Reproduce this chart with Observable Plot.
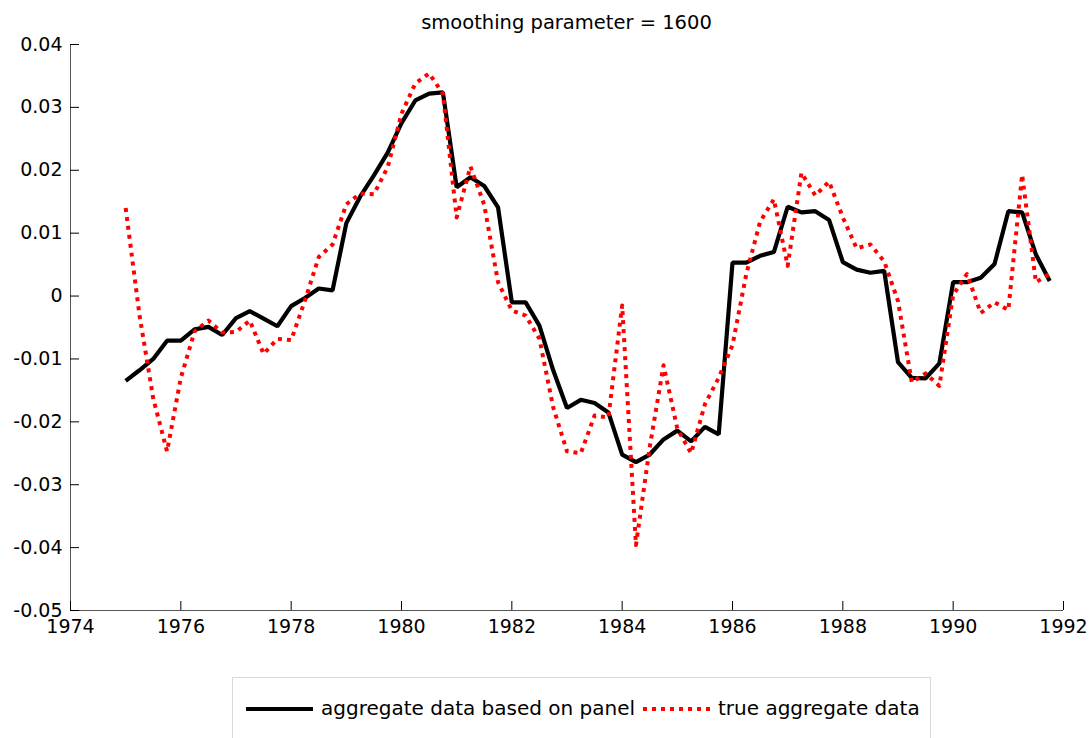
<!DOCTYPE html>
<html>
<head>
<meta charset="utf-8">
<script src="https://cdn.jsdelivr.net/npm/d3@7"></script>
<script src="https://cdn.jsdelivr.net/npm/@observablehq/plot@0.6"></script>
<style>
  body { margin: 0; background: #fff; }
  #wrap { position: relative; width: 1091px; height: 738px; overflow: hidden; font-family: "DejaVu Sans", sans-serif; color: #000; background: #fff; }
  #title { position: absolute; left: 70px; width: 993px; top: 13px; text-align: center; font-size: 19.5px; line-height: 20px; }
  #chart { position: absolute; left: 0; top: 0; }
  #legend { position: absolute; left: 232px; top: 677px; width: 697px; height: 90px; border: 1px solid #d9d9d9; background: #fff; }
  .sw { position: absolute; top: 26px; height: 10px; }
  .lt { position: absolute; top: 20px; font-size: 20px; line-height: 20px; white-space: nowrap; }
</style>
</head>
<body>
<div id="wrap">
  <div id="chart"></div>
  <div id="title">smoothing parameter = 1600</div>
  <div id="legend"></div>
</div>
<script>
// quarterly dates
const dates = [
  1975, 1975.25, 1975.5, 1975.75, 1976, 1976.25, 1976.5, 1976.75,
  1977, 1977.25, 1977.5, 1977.75, 1978, 1978.25, 1978.5, 1978.75,
  1979, 1979.25, 1979.5, 1979.75, 1980, 1980.25, 1980.5, 1980.75,
  1981, 1981.25, 1981.5, 1981.75, 1982, 1982.25, 1982.5, 1982.75,
  1983, 1983.25, 1983.5, 1983.75, 1984, 1984.25, 1984.5, 1984.75,
  1985, 1985.25, 1985.5, 1985.75, 1986, 1986.25, 1986.5, 1986.75,
  1987, 1987.25, 1987.5, 1987.75, 1988, 1988.25, 1988.5, 1988.75,
  1989, 1989.25, 1989.5, 1989.75, 1990, 1990.25, 1990.5, 1990.75,
  1991, 1991.25, 1991.5, 1991.75
];

// aggregate data based on panel (black solid)
const panelAggregate = [
  -0.0135, -0.0118, -0.0100, -0.0071, -0.0071, -0.0053, -0.0049, -0.0062,
  -0.0035, -0.0024, -0.0036, -0.0048, -0.0016, -0.0003, 0.0012, 0.0009,
  0.0116, 0.0158, 0.0192, 0.0228, 0.0275, 0.0311, 0.0322, 0.0324,
  0.0173, 0.0189, 0.0175, 0.0141, -0.0010, -0.0010, -0.0047, -0.0118,
  -0.0178, -0.0165, -0.0170, -0.0185, -0.0252, -0.0264, -0.0252, -0.0228,
  -0.0214, -0.0231, -0.0208, -0.0220, 0.0053, 0.0053, 0.0064, 0.0070,
  0.0142, 0.0133, 0.0135, 0.0121, 0.0054, 0.0042, 0.0037, 0.0040,
  -0.0105, -0.0130, -0.0131, -0.0107, 0.0022, 0.0022, 0.0029, 0.0051,
  0.0135, 0.0133, 0.0066, 0.0024
];

// true aggregate data (red dotted)
const trueAggregate = [
  0.0140, -0.0030, -0.0163, -0.0247, -0.0130, -0.0056, -0.0039, -0.0058,
  -0.0057, -0.0039, -0.0092, -0.0068, -0.0070, -0.0007, 0.0062, 0.0082,
  0.0146, 0.0163, 0.0162, 0.0205, 0.0290, 0.0338, 0.0354, 0.0322,
  0.0125, 0.0206, 0.0145, 0.0022, -0.0023, -0.0031, -0.0068, -0.0177,
  -0.0247, -0.0250, -0.0190, -0.0193, -0.0015, -0.0396, -0.0240, -0.0110,
  -0.0211, -0.0250, -0.0172, -0.0130, -0.0078, 0.0035, 0.0118, 0.0154,
  0.0048, 0.0196, 0.0160, 0.0182, 0.0125, 0.0076, 0.0082, 0.0055,
  -0.0008, -0.0137, -0.0123, -0.0143, 0.0002, 0.0035, -0.0027, -0.0010,
  -0.0022, 0.0193, 0.0022, 0.0035
];

const xTicks = [1974, 1976, 1978, 1980, 1982, 1984, 1986, 1988, 1990, 1992];
const yTicks = [-0.05, -0.04, -0.03, -0.02, -0.01, 0, 0.01, 0.02, 0.03, 0.04];
const seriesNames = ["aggregate data based on panel", "true aggregate data"];
const titleText = "smoothing parameter = 1600";

const panelRows = dates.map((d, i) => ({date: d, value: panelAggregate[i]}));
const trueRows = dates.map((d, i) => ({date: d, value: trueAggregate[i]}));

const chart = Plot.plot({
  width: 1091,
  height: 650,
  marginLeft: 70,
  marginRight: 28,
  marginTop: 44,
  marginBottom: 40,
  style: {fontFamily: "DejaVu Sans, sans-serif", fontSize: "19px", color: "#000", background: "transparent", overflow: "visible"},
  x: {domain: [1974, 1992], label: null},
  y: {domain: [-0.05, 0.04], label: null},
  marks: [
    Plot.ruleX([1974], {stroke: "#555", strokeWidth: 1}),
    Plot.ruleY([-0.05], {stroke: "#555", strokeWidth: 1}),
    Plot.axisX({ticks: xTicks, tickSize: -9, tickPadding: 18, tickFormat: d => String(d), label: null, stroke: "#000"}),
    Plot.axisY({ticks: yTicks, tickSize: -9, tickPadding: 17, tickFormat: d => (d === 0 ? "0" : d.toFixed(2)), label: null, stroke: "#000"}),
    Plot.line(panelRows, {x: "date", y: "value", stroke: "#000", strokeWidth: 4.2, strokeLinejoin: "miter", strokeLinecap: "butt"}),
    Plot.line(trueRows, {x: "date", y: "value", stroke: "#ff0000", strokeWidth: 4, strokeDasharray: "4,5", strokeLinecap: "butt"})
  ]
});
document.getElementById("chart").appendChild(chart);
document.getElementById("title").textContent = titleText;

// legend
const legend = document.getElementById("legend");
legend.innerHTML = `
  <svg class="sw" style="left:13px" width="67" height="10"><line x1="0" y1="5" x2="67" y2="5" stroke="#000" stroke-width="4.2"/></svg>
  <div class="lt" style="left:88px">${seriesNames[0]}</div>
  <svg class="sw" style="left:410px" width="69" height="10"><line x1="0" y1="5" x2="69" y2="5" stroke="#ff0000" stroke-width="4" stroke-dasharray="4,5"/></svg>
  <div class="lt" style="left:485px">${seriesNames[1]}</div>
`;
</script>
</body>
</html>
